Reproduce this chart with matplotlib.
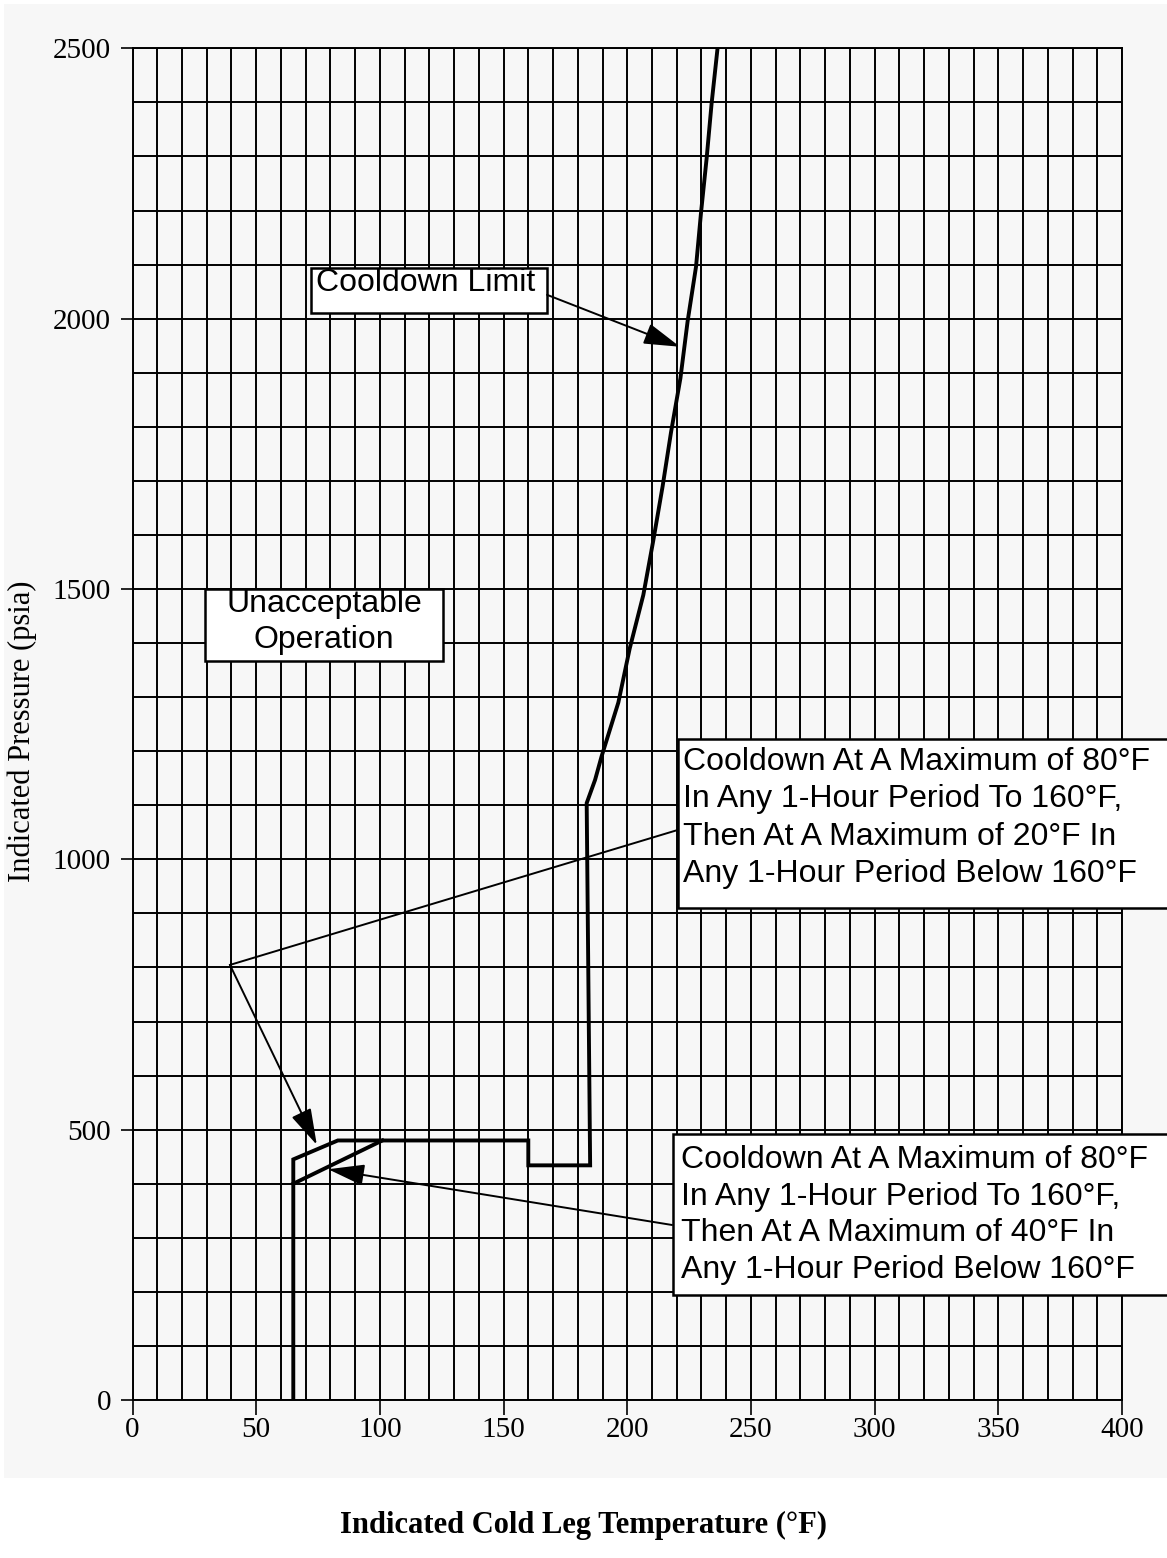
import numpy as np
import matplotlib
matplotlib.use("Agg")
import matplotlib.pyplot as plt
from matplotlib.patches import Rectangle

# composite limit curve (20F/hr below 160F) and cooldown limit above
limit_T = [65, 65, 83, 160, 160, 185, 183.6, 187, 189.6, 196.4, 201, 206.5,
           210.5, 214.3, 217.7, 221.5, 224.4, 227.8, 229.8, 232.1, 234.1, 236.5]
limit_P = [0, 445, 480, 480, 434, 434, 1104, 1147, 1190, 1290, 1390, 1489,
           1589, 1690, 1790, 1890, 1995, 2096, 2195, 2297, 2398, 2500]

# 40F/hr branch
branch_T = [65, 101]
branch_P = [400, 480]

x_ticks = [0, 50, 100, 150, 200, 250, 300, 350, 400]
y_ticks = [0, 500, 1000, 1500, 2000, 2500]

note_limit = ["Cooldown Limit"]
note_unacc = ["Unacceptable", "Operation"]
note_20 = ["Cooldown At A Maximum of 80\u00b0F",
           "In Any 1-Hour Period To 160\u00b0F,",
           "Then At A Maximum of 20\u00b0F In",
           "Any 1-Hour Period Below 160\u00b0F"]
note_40 = ["Cooldown At A Maximum of 80\u00b0F",
           "In Any 1-Hour Period To 160\u00b0F,",
           "Then At A Maximum of 40\u00b0F In",
           "Any 1-Hour Period Below 160\u00b0F"]

W, H = 1167, 1558
fig = plt.figure(figsize=(W / 100, H / 100), dpi=100)
fig.patch.set_facecolor("white")

# light grey panel behind the plot
fig.patches.append(Rectangle((4 / W, 1 - 1478 / H), (W - 4) / W, (1478 - 4) / H,
                             transform=fig.transFigure, facecolor="#f7f7f7",
                             edgecolor="none", zorder=-10))

ax = fig.add_axes([132.5 / W, 1 - 1400 / H, (1122 - 132.5) / W, (1400 - 48.3) / H])
ax.set_zorder(1)
ax.set_facecolor("#f7f7f7")
ax.set_xlim(0, 400)
ax.set_ylim(0, 2500)

ax.set_xticks(x_ticks)
ax.set_yticks(y_ticks)
ax.set_xticks(np.arange(0, 401, 10), minor=True)
ax.set_yticks(np.arange(0, 2501, 100), minor=True)
ax.grid(True, which="both", color="black", lw=1.4)
ax.tick_params(which="minor", length=0)
ax.tick_params(which="major", labelsize=21, labelfontfamily="Liberation Serif")
ax.tick_params(axis="x", which="major", length=10.5, width=1.2, pad=2)
ax.tick_params(axis="y", which="major", length=8.5, width=1.2, pad=7)
for s in ax.spines.values():
    s.set_linewidth(1.4)

ax.plot(limit_T, limit_P, color="black", lw=2.8, solid_joinstyle="miter", zorder=3)
ax.plot(branch_T, branch_P, color="black", lw=2.8, zorder=3)

sans = "Liberation Sans"

def box(x0, y0, x1, y1):
    ax.add_patch(Rectangle((x0, y0), x1 - x0, y1 - y0, facecolor="white",
                           edgecolor="black", lw=1.8, clip_on=False, zorder=4))

def lines(txt, x, y, step, ha="left"):
    for i, t in enumerate(txt):
        ax.annotate(t, xy=(x, y), xytext=(0, -i * step), textcoords="offset points",
                    ha=ha, va="baseline", fontsize=23, family=sans, zorder=5,
                    annotation_clip=False)

box(72.0, 2011, 167.7, 2093)
lines(note_limit, 74.2, 2052, 0)

box(29.3, 1367.6, 125.6, 1499.5)
lines(note_unacc, 77.4, 1458, 26, ha="center")

box(220.6, 909.6, 418.5, 1222.7)
lines(note_20, 222.4, 1165.4, 26.9)

box(218.4, 194, 418.5, 492)
lines(note_40, 221.6, 428.6, 26.3)

arrow = dict(arrowstyle="-|>,head_length=0.75,head_width=0.22", mutation_scale=30,
             color="black", lw=1.4, shrinkA=0, shrinkB=0)

# cooldown limit pointer
ax.annotate("", xy=(221.3, 1948), xytext=(167.6, 2044), arrowprops=arrow, zorder=5)

# 20F pointer: line to a vertex then arrow to the curve
ax.plot([220.5, 39.4], [1054.4, 804.7], color="black", lw=1.4, zorder=3, clip_on=False)
ax.annotate("", xy=(74.5, 472), xytext=(39.4, 804.7), arrowprops=arrow, zorder=5)

# 40F pointer
ax.annotate("", xy=(79.1, 426.8), xytext=(218.1, 323.7), arrowprops=arrow, zorder=5)

fig.text(22 / W, 1 - 731 / H, "Indicated Pressure (psia)", rotation=90,
         ha="center", va="center", fontsize=22, family="Liberation Serif")
fig.text(0.5, 1 - 1525 / H, "Indicated Cold Leg Temperature (\u00b0F)",
         ha="center", va="center", fontsize=22, fontweight="bold",
         family="Liberation Serif")

fig.savefig("out.png", dpi=100)
